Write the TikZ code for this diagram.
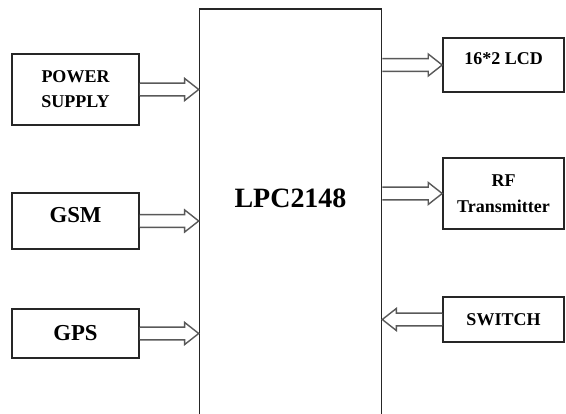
\documentclass[tikz,border=0pt]{standalone}
\usepackage{fontspec}
\setmainfont{Liberation Serif}
\usetikzlibrary{calc}
\tikzset{
  blockbox/.style={draw=black!85, line width=1.1pt, fill=white, align=center, inner sep=0pt,
    font=\bfseries\fontsize{12.8}{17.8}\selectfont},
  bigbox/.style={blockbox, font=\bfseries\fontsize{16.2}{19}\selectfont},
  blockarr/.style={draw=black!65, line width=1pt, fill=white, line join=miter},
}
\newcommand{\arrshaft}{0.16cm}
\newcommand{\arrhead}{0.275cm}
\newcommand{\arrlen}{0.35cm}
% hollow block arrow from #1 to #2
\newcommand{\blockarrow}[2]{%
  \coordinate (ah) at ($(#2)!\arrlen!(#1)$);
  \draw[blockarr] ($(#1)!\arrshaft!90:(#2)$) -- ($(ah)!\arrshaft!-90:(#1)$)
    -- ($(ah)!\arrhead!-90:(#1)$) -- (#2) -- ($(ah)!\arrhead!90:(#1)$)
    -- ($(ah)!\arrshaft!90:(#1)$) -- ($(#1)!\arrshaft!-90:(#2)$);}

\begin{document}
\begin{tikzpicture}[x=0.025cm, y=0.025cm]
\useasboundingbox (0,0) rectangle (566,414);
\clip (0,0) rectangle (566,414);
% controller
\node[blockbox, minimum width=4.55cm, minimum height=10.625cm] (mcu) at (290.5,192.5) {};
\node[font=\bfseries\fontsize{19.9}{22}\selectfont] (mcutxt) at (290.5,216) {LPC2148};
% inputs
\node[blockbox, minimum width=3.175cm, minimum height=1.775cm] (ps) at (75.5,324.5) {POWER\\SUPPLY};
\node[bigbox, minimum width=3.175cm, minimum height=1.4cm, text depth=0.3cm] (gsm) at (75.5,193) {GSM};
\node[bigbox, minimum width=3.175cm, minimum height=1.225cm] (gps) at (75.5,80.5) {GPS};
% outputs
\node[blockbox, minimum width=3.025cm, minimum height=1.35cm, text depth=0.3cm] (lcd) at (503.5,349) {16*2 LCD};
\node[blockbox, minimum width=3.025cm, minimum height=1.775cm,
  font=\bfseries\fontsize{12.8}{18.5}\selectfont] (rf) at (503.5,220.5) {RF\\Transmitter};
\node[blockbox, minimum width=3.025cm, minimum height=1.125cm] (sw) at (503.5,94.5) {SWITCH};
% arrows
\coordinate (psin) at (mcu.west |- ps.east);
\coordinate (gsmin) at (mcu.west |- gsm.east);
\coordinate (gpsin) at (mcu.west |- gps.east);
\coordinate (lcdout) at (mcu.east |- lcd.west);
\coordinate (rfout) at (mcu.east |- rf.west);
\coordinate (swin) at (mcu.east |- sw.west);
\blockarrow{ps.east}{psin}
\blockarrow{gsm.east}{gsmin}
\blockarrow{gps.east}{gpsin}
\blockarrow{lcdout}{lcd.west}
\blockarrow{rfout}{rf.west}
\blockarrow{sw.west}{swin}
\end{tikzpicture}
\end{document}
